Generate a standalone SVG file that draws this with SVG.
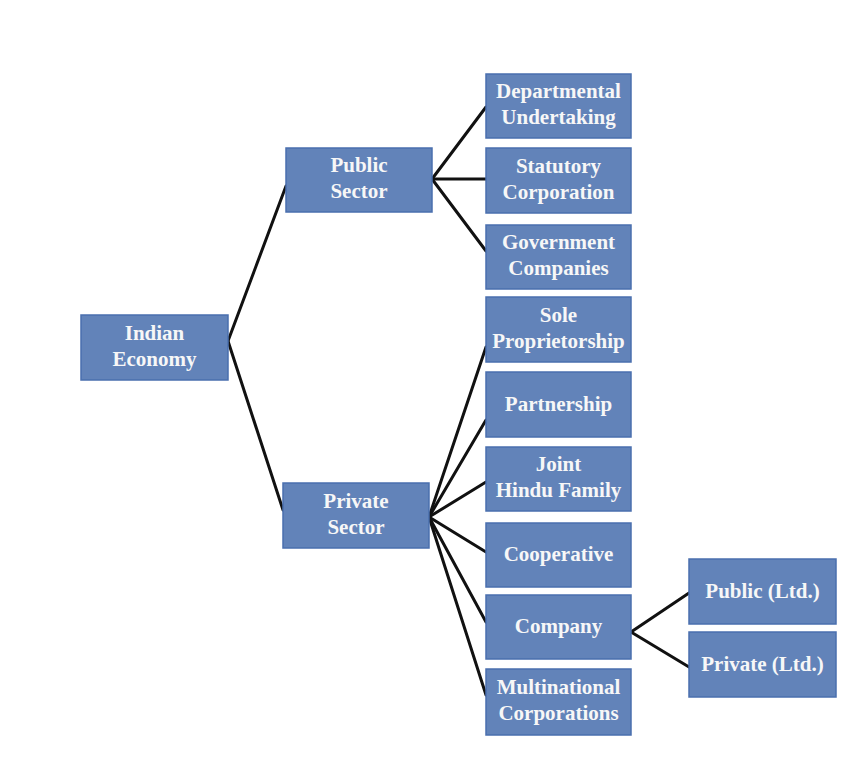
<svg xmlns="http://www.w3.org/2000/svg" width="867" height="770" viewBox="0 0 867 770">
<style>
.box{fill:#6283B9;stroke:#4A6FAE;stroke-width:1.5}
.t{font-family:"Liberation Serif","Times New Roman",serif;font-weight:bold;font-size:21px;fill:#F7F7F7;text-anchor:middle}
.c{stroke:#111;stroke-width:3;fill:none;stroke-linecap:round}
</style>
<rect width="867" height="770" fill="#fff"/>
<g id="connectors">
<line class="c" x1="228" y1="341" x2="286" y2="186"/>
<line class="c" x1="228" y1="341" x2="283" y2="510"/>
<line class="c" x1="432" y1="179" x2="486" y2="107"/>
<line class="c" x1="432" y1="179" x2="486" y2="179"/>
<line class="c" x1="432" y1="179" x2="486" y2="251"/>
<line class="c" x1="429" y1="517" x2="486" y2="347"/>
<line class="c" x1="429" y1="517" x2="486" y2="420"/>
<line class="c" x1="429" y1="517" x2="486" y2="482"/>
<line class="c" x1="429" y1="517" x2="486" y2="552"/>
<line class="c" x1="429" y1="517" x2="486" y2="622"/>
<line class="c" x1="429" y1="517" x2="486" y2="695"/>
<line class="c" x1="631" y1="632" x2="689" y2="593"/>
<line class="c" x1="631" y1="632" x2="689" y2="667"/>
</g>
<g id="indian-economy"><rect class="box" x="81" y="315" width="147" height="65"/><text class="t" x="154.5" y="340">Indian</text><text class="t" x="154.5" y="366">Economy</text></g>
<g id="public-sector"><rect class="box" x="286" y="148" width="146" height="64"/><text class="t" x="359" y="172">Public</text><text class="t" x="359" y="198">Sector</text></g>
<g id="private-sector"><rect class="box" x="283" y="483" width="146" height="65"/><text class="t" x="356" y="508">Private</text><text class="t" x="356" y="534">Sector</text></g>
<g id="departmental"><rect class="box" x="486" y="74" width="145" height="64"/><text class="t" x="558.5" y="98">Departmental</text><text class="t" x="558.5" y="124">Undertaking</text></g>
<g id="statutory"><rect class="box" x="486" y="148" width="145" height="65"/><text class="t" x="558.5" y="173">Statutory</text><text class="t" x="558.5" y="199">Corporation</text></g>
<g id="government"><rect class="box" x="486" y="225" width="145" height="64"/><text class="t" x="558.5" y="249">Government</text><text class="t" x="558.5" y="275">Companies</text></g>
<g id="sole"><rect class="box" x="486" y="297" width="145" height="65"/><text class="t" x="558.5" y="322">Sole</text><text class="t" x="558.5" y="348">Proprietorship</text></g>
<g id="partnership"><rect class="box" x="486" y="372" width="145" height="65"/><text class="t" x="558.5" y="411">Partnership</text></g>
<g id="joint-hindu-family"><rect class="box" x="486" y="447" width="145" height="64"/><text class="t" x="558.5" y="471">Joint</text><text class="t" x="558.5" y="497">Hindu Family</text></g>
<g id="cooperative"><rect class="box" x="486" y="523" width="145" height="64"/><text class="t" x="558.5" y="561">Cooperative</text></g>
<g id="company"><rect class="box" x="486" y="595" width="145" height="64"/><text class="t" x="558.5" y="633">Company</text></g>
<g id="multinational"><rect class="box" x="486" y="669" width="145" height="66"/><text class="t" x="558.5" y="694">Multinational</text><text class="t" x="558.5" y="720">Corporations</text></g>
<g id="public-ltd"><rect class="box" x="689" y="559" width="147" height="65"/><text class="t" x="762.5" y="598">Public (Ltd.)</text></g>
<g id="private-ltd"><rect class="box" x="689" y="632" width="147" height="65"/><text class="t" x="762.5" y="671">Private (Ltd.)</text></g>
</svg>
